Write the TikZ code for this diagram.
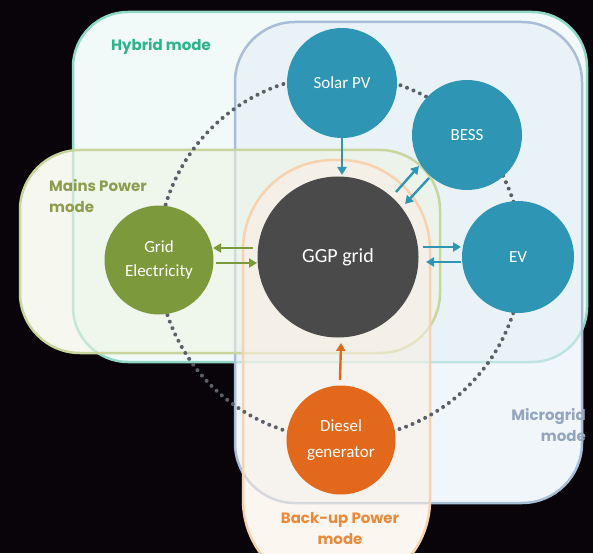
\documentclass[tikz,border=0pt]{standalone}
\usepackage{fontspec}
\setmainfont{Carlito}
\newfontfamily\modefont{Poppins}
\usetikzlibrary{arrows.meta,calc}
\definecolor{bgc}{HTML}{080409}
\definecolor{hybline}{HTML}{8FD8C6}
\definecolor{hybfill}{HTML}{E6F7F3}
\definecolor{micline}{HTML}{A9BDD6}
\definecolor{micfill}{HTML}{E4EFF7}
\definecolor{mainline}{HTML}{C8D69E}
\definecolor{mainfill}{HTML}{EFF3E2}
\definecolor{backline}{HTML}{F8D2AE}
\definecolor{backfill}{HTML}{FBEFE4}
\definecolor{tealc}{HTML}{2E96B4}
\definecolor{ggpc}{HTML}{4A4A4B}
\definecolor{olivec}{HTML}{7C9A3C}
\definecolor{orangec}{HTML}{E2691B}
\definecolor{dotc}{HTML}{5B6068}
\definecolor{hybtxt}{HTML}{2DB48C}
\definecolor{maintxt}{HTML}{8E9C4E}
\definecolor{mictxt}{HTML}{93A6BD}
\definecolor{backtxt}{HTML}{E98A3C}
\tikzset{
  modebox/.style={line width=2.5pt, fill opacity=0.55},
  circ/.style={circle, draw=none, text=white, inner sep=0pt, align=center,
    font=\fontsize{17}{24}\selectfont},
  arr/.style={line width=2.4pt, -{Triangle[length=8pt,width=9pt]}},
  modelabel/.style={font=\modefont\bfseries\fontsize{15}{21}\selectfont, inner sep=0pt},
  dotring/.style={draw=dotc, line width=4pt, line cap=round, dash pattern=on 0.01pt off 7pt}
}
\begin{document}
\begin{tikzpicture}[x=1pt,y=-1pt]
\fill[bgc] (0,0) rectangle (593,553);
\useasboundingbox (0,0) rectangle (593,553);
\begin{scope}
\clip (0,0) rectangle (593,553);
% opaque white underlay so the tints stay pale
\fill[white, rounded corners=55pt] (73,12) rectangle (587,362);
\fill[white, rounded corners=60pt] (235,22) rectangle (582,503);
\fill[white, rounded corners=60pt] (20,150) rectangle (440,353);
\fill[white, rounded corners=90pt] (243,160) rectangle (430,590);
\draw[modebox, draw=hybline, fill=hybfill, rounded corners=55pt] (73,12) rectangle (587,362);
\draw[modebox, draw=micline, fill=micfill, rounded corners=60pt] (235,22) rectangle (582,503);
\draw[modebox, draw=mainline, fill=mainfill, rounded corners=60pt] (20,150) rectangle (440,353);
\draw[modebox, draw=backline, fill=backfill, rounded corners=90pt] (243,160) rectangle (430,590);
\end{scope}
% dotted ring
\draw[dotring] (340,257) circle[radius=182pt];
% circles
\node[circ, fill=tealc, minimum size=110pt] (solar) at (342,83) {Solar PV};
\node[circ, fill=tealc, minimum size=110pt] (bess) at (467,135) {BESS};
\node[circ, fill=tealc, minimum size=112pt] (ev) at (518,257) {EV};
\node[circ, fill=ggpc, minimum size=161pt, font=\fontsize{20}{24}\selectfont] (ggp) at (338,257) {GGP grid};
\node[circ, fill=olivec, minimum size=109pt] (grid) at (159,260) {Grid\\Electricity};
\node[circ, fill=orangec, minimum size=109pt, font=\fontsize{17}{26}\selectfont] (diesel) at (341,440) {Diesel\\generator};
% arrows
\draw[arr, tealc] (solar.south) -- ($(ggp)+(4,-82)$);
\draw[arr, tealc] ($(ggp)+(58,-65)$) -- ($(bess)+(-48,31)$);
\draw[arr, tealc] ($(bess)+(-38,43)$) -- ($(ggp)+(67,-53)$);
\draw[arr, tealc] ($(ggp)+(85,-10)$) -- ($(ev)+(-57,-10)$);
\draw[arr, tealc] ($(ev)+(-57,5)$) -- ($(ggp)+(88,5)$);
\draw[arr, olivec] ($(ggp)+(-85,-9)$) -- ($(grid)+(54,-12)$);
\draw[arr, olivec] ($(grid)+(57,3)$) -- ($(ggp)+(-81,6)$);
\draw[arr, orangec] ($(diesel)+(-1,-60)$) -- ($(ggp)+(3,86)$);
% mode labels
\node[modelabel, text=hybtxt] (hyblbl) at (161,46) {Hybrid mode};
\node[modelabel, text=maintxt, anchor=west, align=left] (mainlbl) at (49,196) {Mains Power\\mode};
\node[modelabel, text=mictxt, anchor=east, align=right] (miclbl) at (586,425) {Microgrid\\mode};
\node[modelabel, text=backtxt, align=center] (backlbl) at (340,529) {Back-up Power\\mode};
\end{tikzpicture}
\end{document}
